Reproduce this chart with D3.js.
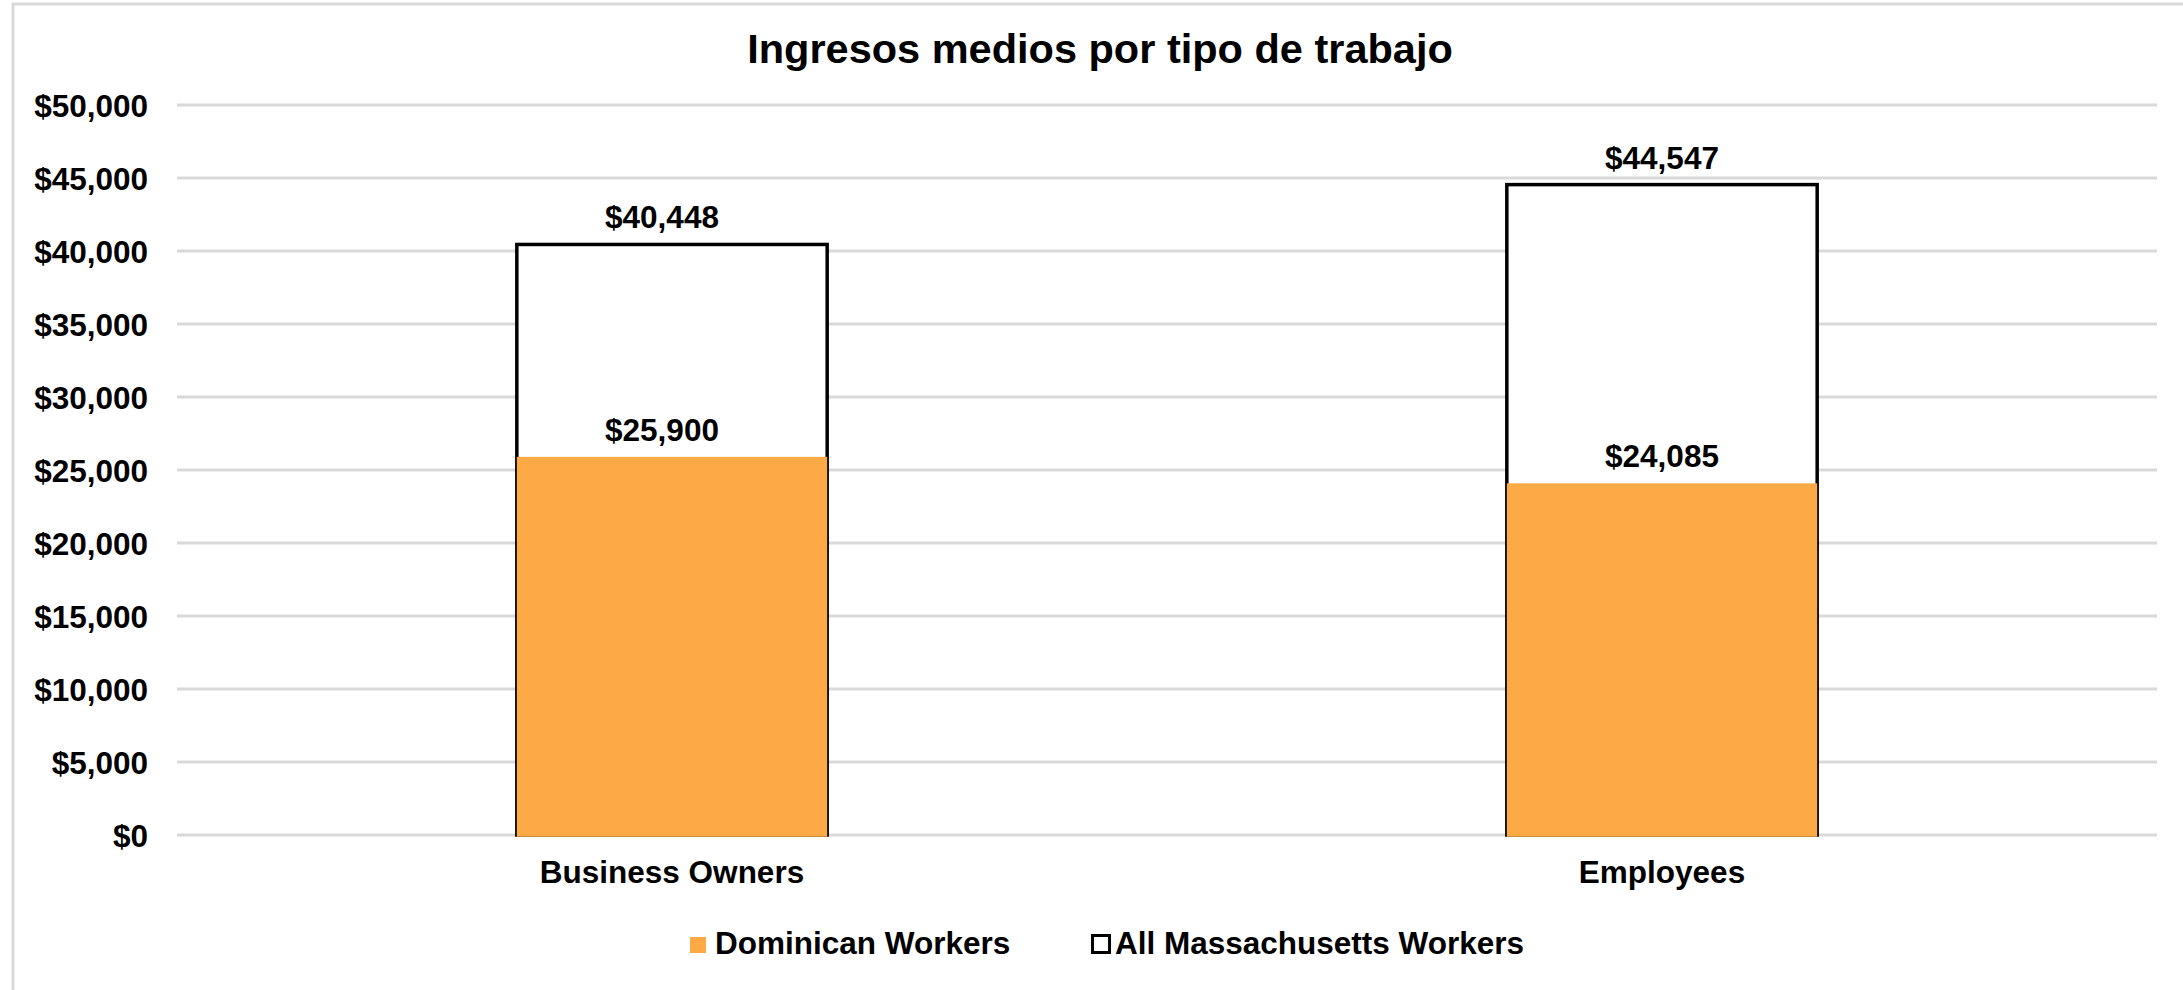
<!DOCTYPE html>
<html>
<head>
<meta charset="utf-8">
<script src="https://cdn.jsdelivr.net/npm/d3@7"></script>
<style>
  body { margin: 0; background: #fff; }
  svg text { font-family: 'Liberation Sans', Arial, sans-serif; font-weight: bold; fill: #000; }
</style>
</head>
<body>
<div id="chart"></div>
<script>
let categories = ['Business Owners', 'Employees']
let dominican = [25900, 24085]
let allMass = [40448, 44547]
let seriesNames = ['Dominican Workers', 'All Massachusetts Workers']
let title = 'Ingresos medios por tipo de trabajo'

let width = 2183, height = 990
let margin = { top: 105, right: 26, bottom: 155, left: 177 }
let orange = '#fcaa45'
let fs = '31.5px'

let svg = d3.select('#chart')
.append('svg')
.attr('width', width)
.attr('height', height)

// outer chart border (cut off at right / bottom like the reference)
svg.append('rect')
.attr('x', 13)
.attr('y', 4)
.attr('width', width)
.attr('height', height)
.attr('fill', 'none')
.style('stroke', '#d9d9d9')
.style('stroke-width', 3)

svg.append('text')
.attr('x', 1100)
.attr('y', 63)
.attr('text-anchor', 'middle')
.style('font-size', '41.5px')
.text(title)

let x = d3.scaleBand()
.domain(categories)
.range([margin.left, width - margin.right])
.paddingInner(0)
.paddingOuter(0)

let y = d3.scaleLinear()
.domain([0, 50000])
.range([height - margin.bottom, margin.top])

let fmt = v => '$' + d3.format(',')(v)

// gridlines
svg.append('g')
.selectAll('line')
.data(y.ticks(10))
.join('line')
.attr('x1', margin.left)
.attr('x2', width - margin.right)
.attr('y1', d => y(d))
.attr('y2', d => y(d))
.style('stroke', '#d9d9d9')
.style('stroke-width', 3)

// y axis labels
let yAxis = svg.append('g')
.attr('transform', `translate(${margin.left}, 0)`)
.call(d3.axisLeft(y).ticks(10).tickFormat(fmt).tickSize(0).tickPadding(29))
yAxis.select('.domain').remove()
yAxis.selectAll('text')
.attr('dy', '0.36em')
.style('font-size', fs)
.style('font-family', "'Liberation Sans', Arial, sans-serif")
.style('font-weight', 'bold')

let barW = x.bandwidth() / 3.19

let rows = categories.map((c, i) => ({ cat: c, dom: dominican[i], all: allMass[i] }))

// all massachusetts (hollow, behind)
svg.append('g')
.selectAll('rect')
.data(rows)
.join('rect')
.attr('x', d => x(d.cat) + x.bandwidth() / 2 - barW / 2)
.attr('width', barW)
.attr('y', d => y(d.all))
.attr('height', d => y(0) - y(d.all))
.attr('fill', '#fff')
.style('stroke', '#000')
.style('stroke-width', 3.5)

// dominican (orange, overlapping)
svg.append('g')
.selectAll('rect')
.data(rows)
.join('rect')
.attr('x', d => x(d.cat) + x.bandwidth() / 2 - barW / 2)
.attr('width', barW)
.attr('y', d => y(d.dom))
.attr('height', d => y(0) - y(d.dom) + 1.75)
.attr('fill', orange)

// value labels (first category's labels sit a little left of centre)
let labelDx = (d, i) => i == 0 ? -10 : 0

let labels = svg.append('g')
labels.selectAll('.lab-all')
.data(rows)
.join('text')
.attr('class', 'lab-all')
.attr('x', d => x(d.cat) + x.bandwidth() / 2)
.attr('dx', labelDx)
.attr('y', d => y(d.all) - 16)
.attr('text-anchor', 'middle')
.style('font-size', fs)
.text(d => fmt(d.all))

labels.selectAll('.lab-dom')
.data(rows)
.join('text')
.attr('class', 'lab-dom')
.attr('x', d => x(d.cat) + x.bandwidth() / 2)
.attr('dx', labelDx)
.attr('y', d => y(d.dom) - 16)
.attr('text-anchor', 'middle')
.style('font-size', fs)
.text(d => fmt(d.dom))

// category labels
svg.append('g')
.selectAll('text')
.data(categories)
.join('text')
.attr('x', d => x(d) + x.bandwidth() / 2)
.attr('y', 883)
.attr('text-anchor', 'middle')
.style('font-size', fs)
.text(d => d)

// legend
let legend = svg.append('g')
legend.append('rect')
.attr('x', 690)
.attr('y', 937)
.attr('width', 16)
.attr('height', 16)
.attr('fill', orange)
legend.append('text')
.attr('x', 715)
.attr('y', 954)
.style('font-size', fs)
.text(seriesNames[0])

legend.append('rect')
.attr('x', 1092.5)
.attr('y', 935.5)
.attr('width', 17)
.attr('height', 17)
.attr('fill', '#fff')
.style('stroke', '#000')
.style('stroke-width', 3)
legend.append('text')
.attr('x', 1115)
.attr('y', 954)
.style('font-size', fs)
.text(seriesNames[1])
</script>
</body>
</html>
